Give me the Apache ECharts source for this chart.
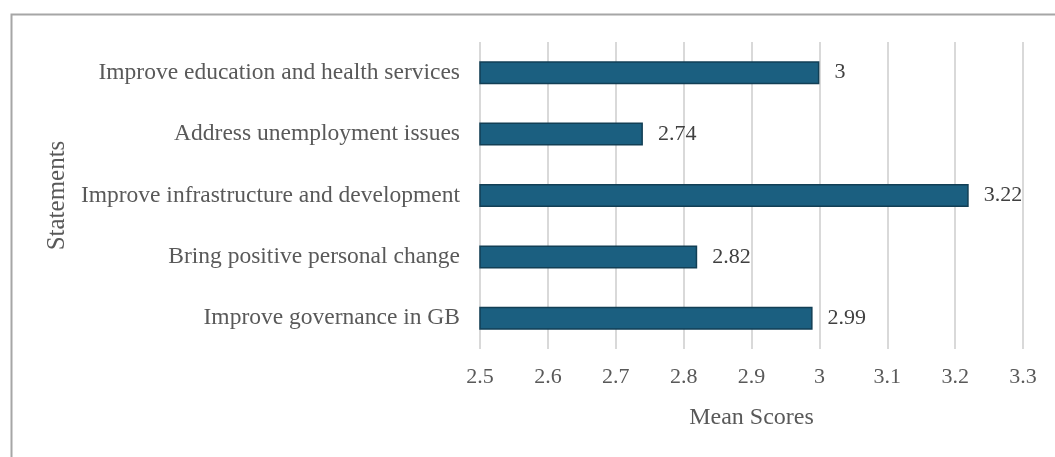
<!DOCTYPE html>
<html>
<head>
<meta charset="utf-8">
<script src="https://cdn.jsdelivr.net/npm/echarts@6/dist/echarts.min.js"></script>
<style>html,body{margin:0;padding:0;background:#fff}#c{width:1055px;height:457px}</style>
</head>
<body>
<div id="c"></div>
<script>
const categories = [
  "Improve governance in GB",
  "Bring positive personal change",
  "Improve infrastructure and development",
  "Address unemployment issues",
  "Improve education and health services"
];
const values = [2.99, 2.82, 3.22, 2.74, 3];
const xTicks = [2.5, 2.6, 2.7, 2.8, 2.9, 3, 3.1, 3.2, 3.3];

const FONT = "'Liberation Serif', 'DejaVu Serif', serif";
const chart = echarts.init(document.getElementById('c'), null, {renderer: 'canvas'});
chart.setOption({
  animation: false,
  backgroundColor: '#fff',
  graphic: [{
    type: 'rect', left: 9, top: 12, silent: true,
    shape: {width: 1100, height: 500},
    style: {fill: 'none', stroke: '#a6a6a6', lineWidth: 2}
  }],
  grid: {left: 480, right: 32, top: 42, bottom: 108},
  xAxis: {
    type: 'value', min: xTicks[0], max: xTicks[xTicks.length - 1], interval: 0.1,
    name: 'Mean Scores', nameLocation: 'middle', nameGap: 57,
    nameTextStyle: {fontFamily: FONT, fontSize: 24, color: '#595959'},
    axisLine: {show: false}, axisTick: {show: false},
    axisLabel: {fontFamily: FONT, fontSize: 22, color: '#595959', margin: 17,
      formatter: v => String(Math.round(v * 10) / 10)},
    splitLine: {show: true, lineStyle: {color: '#d9d9d9', width: 2}}
  },
  yAxis: {
    type: 'category', data: categories,
    name: 'Statements', nameLocation: 'middle', nameGap: 409, nameRotate: 90,
    nameTextStyle: {fontFamily: FONT, fontSize: 25, color: '#595959'},
    axisLine: {show: false}, axisTick: {show: false},
    axisLabel: {fontFamily: FONT, fontSize: 23.5, color: '#595959', margin: 20}
  },
  series: [{
    type: 'bar', data: values, barWidth: 23,
    itemStyle: {color: '#1b5f80', borderColor: '#123f55', borderWidth: 1.5},
    label: {show: true, position: 'right', distance: 15, fontFamily: FONT, fontSize: 22, color: '#404040',
      formatter: p => String(p.value)}
  }]
});
</script>
</body>
</html>
